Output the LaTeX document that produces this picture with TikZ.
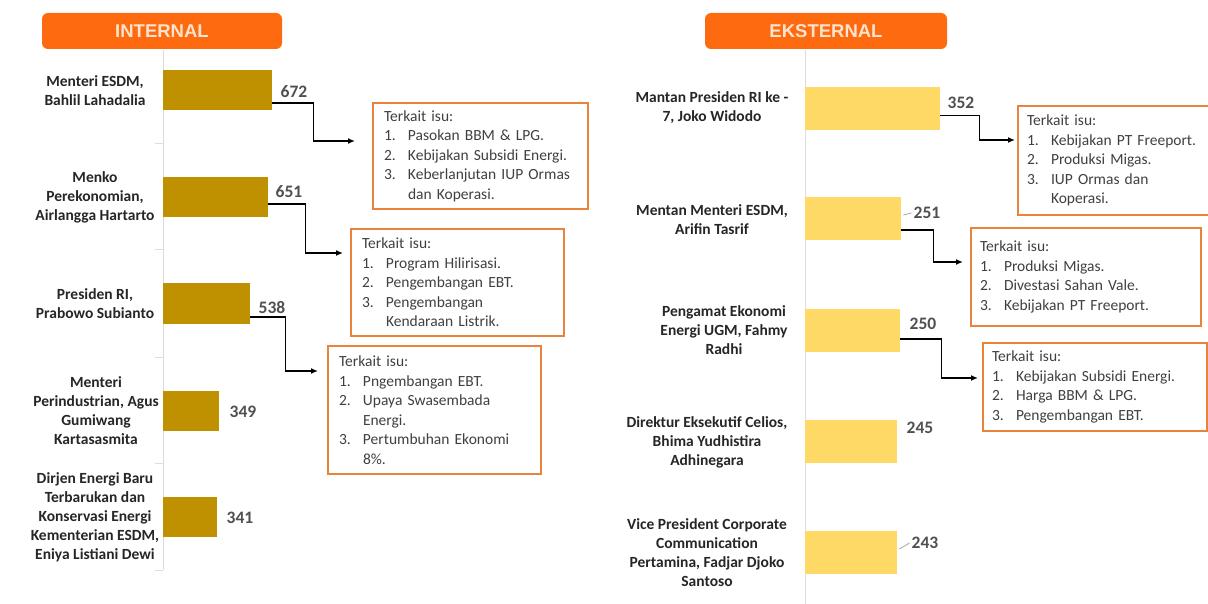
\documentclass[tikz,border=0pt]{standalone}
\usepackage{fontspec}
\setmainfont{Carlito}
\newfontfamily\bannerfont{Liberation Sans}
\usetikzlibrary{arrows.meta}
\definecolor{intbar}{RGB}{191,144,0}
\definecolor{extbar}{RGB}{255,217,102}
\definecolor{bannerc}{RGB}{253,106,16}
\definecolor{bannertxt}{RGB}{255,228,205}
\definecolor{boxc}{RGB}{232,130,60}
\definecolor{labc}{RGB}{38,38,38}
\definecolor{valc}{RGB}{80,80,80}
\definecolor{isuc}{RGB}{64,64,64}
\definecolor{axisc}{RGB}{220,220,220}
\newcommand\isuitem[2]{\makebox[24pt][l]{#1}#2}
\newcommand\isucont[1]{\hspace*{24pt}#1}
\tikzset{
  banner/.style={fill=bannerc, rounded corners=6pt, minimum width=240pt, minimum height=36pt,
    font=\bannerfont\bfseries\fontsize{18.5}{20}\selectfont, text=bannertxt, inner sep=0pt},
  ibar/.style={fill=intbar, anchor=west, minimum height=40pt, inner sep=0pt},
  ebar/.style={fill=extbar, anchor=west, minimum height=43pt, inner sep=0pt},
  lab/.style={align=center, text=labc, font=\bfseries\fontsize{15.5}{19}\selectfont, inner sep=0pt},
  val/.style={text=valc, font=\bfseries\fontsize{17.5}{20}\selectfont, inner sep=0pt},
  isubox/.style={draw=boxc, line width=2pt, fill=white, anchor=north west, align=left,
    inner xsep=10pt, inner ysep=0pt, text=isuc, font=\fontsize{15.5}{19.5}\selectfont},
  conn/.style={draw=black, line width=1.5pt, -{Latex[length=7pt,width=6pt]}},
  axisline/.style={draw=axisc, line width=1pt},
  leader/.style={draw=gray!70, line width=0.8pt}
}
\begin{document}
\begin{tikzpicture}[x=1pt,y=-1pt]
\useasboundingbox[fill=white] (0,0) rectangle (1208,604);
\clip (0,0) rectangle (1208,604);

% ---------- INTERNAL ----------
\node[banner] (bi) at (162,31) {INTERNAL};
\coordinate (iaxt) at (163,50);
\coordinate (iaxb) at (163,570);
\draw[axisline] (iaxt) -- (iaxb);
\foreach \yy in {144,250,357,463,570} \draw[axisline] (155,\yy) -- (163,\yy);

\node[ibar, minimum width=109pt] (ib1) at (163,90) {};
\node[ibar, minimum width=105pt] (ib2) at (163,197) {};
\node[ibar, minimum width=87pt]  (ib3) at (163,303.5) {};
\node[ibar, minimum width=56pt]  (ib4) at (163,410.5) {};
\node[ibar, minimum width=54pt]  (ib5) at (163,517) {};

\node[lab] (il1) at (95,91) {Menteri ESDM,\\Bahlil Lahadalia};
\node[lab] (il2) at (95,197) {Menko\\Perekonomian,\\Airlangga Hartarto};
\node[lab] (il3) at (95,304) {Presiden RI,\\Prabowo Subianto};
\node[lab] (il4) at (96,411) {Menteri\\Perindustrian, Agus\\Gumiwang\\Kartasasmita};
\node[lab] (il5) at (95,517) {Dirjen Energi Baru\\Terbarukan dan\\Konservasi Energi\\Kementerian ESDM,\\Eniya Listiani Dewi};

\node[val] (iv1) at (294,92) {672};
\node[val] (iv2) at (289,192) {651};
\node[val] (iv3) at (272,308) {538};
\node[val] (iv4) at (243,412) {349};
\node[val] (iv5) at (240,518) {341};

\node[isubox, minimum width=215pt, minimum height=106pt, text width=193pt] (ibox1) at (372,102) {%
Terkait isu:\\
\isuitem{1.}{Pasokan BBM \& LPG.}\\
\isuitem{2.}{Kebijakan Subsidi Energi.}\\
\isuitem{3.}{Keberlanjutan IUP Ormas}\\
\isucont{dan Koperasi.}};
\node[isubox, minimum width=213pt, minimum height=107pt, text width=191pt] (ibox2) at (350,228) {%
Terkait isu:\\
\isuitem{1.}{Program Hilirisasi.}\\
\isuitem{2.}{Pengembangan EBT.}\\
\isuitem{3.}{Pengembangan}\\
\isucont{Kendaraan Listrik.}};
\node[isubox, minimum width=213pt, minimum height=128pt, text width=191pt] (ibox3) at (327,345) {%
Terkait isu:\\
\isuitem{1.}{Pngembangan EBT.}\\
\isuitem{2.}{Upaya Swasembada}\\
\isucont{Energi.}\\
\isuitem{3.}{Pertumbuhan Ekonomi}\\
\isucont{8\%.}};

\coordinate (ia1) at (355,141);
\coordinate (ia2) at (343,253);
\coordinate (ia3) at (318,371);
\draw[conn] ([yshift=-13pt]ib1.east) -- ++(41,0) |- (ia1);
\draw[conn] ([yshift=-7pt]ib2.east) -- ++(37,0) |- (ia2);
\draw[conn] ([yshift=-13.5pt]ib3.east) -- ++(35,0) |- (ia3);

% ---------- EKSTERNAL ----------
\node[banner, minimum width=242pt] (be) at (826,31) {EKSTERNAL};
\coordinate (eaxt) at (805,50);
\coordinate (eaxb) at (805,604);
\draw[axisline] (eaxt) -- (eaxb);

\node[ebar, minimum width=135pt] (eb1) at (805,108.5) {};
\node[ebar, minimum width=96pt]  (eb2) at (805,219) {};
\node[ebar, minimum width=95pt]  (eb3) at (805,330) {};
\node[ebar, minimum width=92pt]  (eb4) at (805,441.5) {};
\node[ebar, minimum width=92pt]  (eb5) at (805,552.5) {};

\node[lab] (el1) at (712,108) {Mantan Presiden RI ke -\\7, Joko Widodo};
\node[lab] (el2) at (712,220) {Mentan Menteri ESDM,\\Arifin Tasrif};
\node[lab] (el3) at (724,330) {Pengamat Ekonomi\\Energi UGM, Fahmy\\Radhi};
\node[lab] (el4) at (707,442) {Direktur Eksekutif Celios,\\Bhima Yudhistira\\Adhinegara};
\node[lab] (el5) at (707,553) {Vice President Corporate\\Communication\\Pertamina, Fadjar Djoko\\Santoso};

\node[val] (ev1) at (961,103) {352};
\node[val] (ev2) at (927,213) {251};
\node[val] (ev3) at (923,324) {250};
\node[val] (ev4) at (920,428) {245};
\node[val] (ev5) at (925,543) {243};
\draw[leader] ([shift={(2,-4)}]eb2.east) -- ([xshift=-2pt]ev2.west);
\draw[leader] ([shift={(2,-3.5)}]eb5.east) -- ([xshift=-2pt]ev5.west);

\node[isubox, minimum width=200pt, minimum height=109pt, text width=182pt, inner xsep=9pt] (ebox1) at (1017,105) {%
Terkait isu:\\
\isuitem{1.}{Kebijakan PT Freeport.}\\
\isuitem{2.}{Produksi Migas.}\\
\isuitem{3.}{IUP Ormas dan}\\
\isucont{Koperasi.}};
\node[isubox, minimum width=230pt, minimum height=98pt, text width=212pt, inner xsep=9pt] (ebox2) at (970,227) {%
Terkait isu:\\
\isuitem{1.}{Produksi Migas.}\\
\isuitem{2.}{Divestasi Sahan Vale.}\\
\isuitem{3.}{Kebijakan PT Freeport.}};
\node[isubox, minimum width=224pt, minimum height=88pt, text width=206pt, inner xsep=9pt] (ebox3) at (982,342) {%
Terkait isu:\\
\isuitem{1.}{Kebijakan Subsidi Energi.}\\
\isuitem{2.}{Harga BBM \& LPG.}\\
\isuitem{3.}{Pengembangan EBT.}};

\coordinate (ea1) at (1015,140);
\coordinate (ea2) at (963,262);
\coordinate (ea3) at (978,378);
\draw[conn] ([yshift=-7pt]eb1.east) -- ++(39,0) |- (ea1);
\draw[conn] ([yshift=-11pt]eb2.east) -- ++(32,0) |- (ea2);
\draw[conn] ([yshift=-9pt]eb3.east) -- ++(41,0) |- (ea3);
\end{tikzpicture}
\end{document}
